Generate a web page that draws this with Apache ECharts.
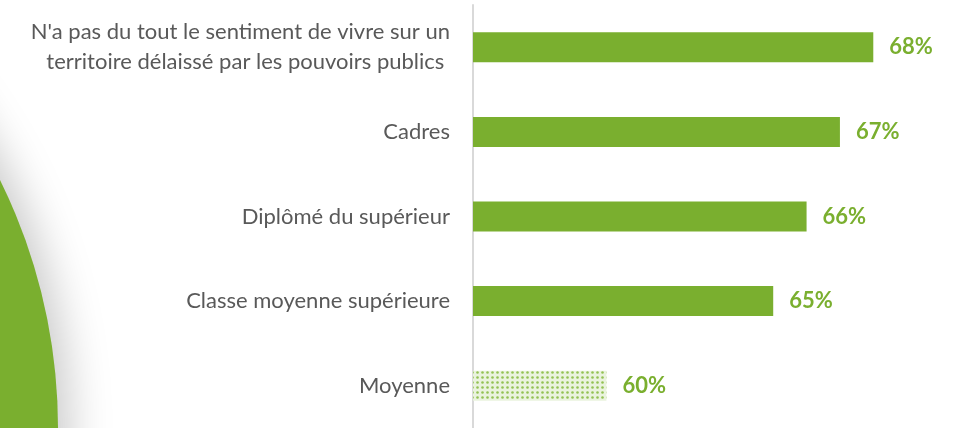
<!DOCTYPE html>
<html>
<head>
<meta charset="utf-8">
<script src="https://cdn.jsdelivr.net/npm/echarts@6/dist/echarts.min.js"></script>
<style>
  html, body { margin: 0; padding: 0; background: #fff; }
  #chart { width: 953px; height: 428px; }
</style>
</head>
<body>
<div id="chart"></div>
<script>
const categories = [
  "N'a pas du tout le sentiment de vivre sur un\nterritoire délaissé par les pouvoirs publics ",
  'Cadres',
  'Diplômé du supérieur',
  'Classe moyenne supérieure',
  'Moyenne'
]
const values = [68, 67, 66, 65, 60]
const averageIndex = 4

const green = '#7aaf2f'
const labelFont = 'Lato'

// dotted pattern for the "Moyenne" bar
function dotPattern() {
  const c = document.createElement('canvas')
  c.width = 5
  c.height = 5
  const ctx = c.getContext('2d')
  ctx.fillStyle = '#eaf3de'
  ctx.fillRect(0, 0, 5, 5)
  ctx.fillStyle = '#93c153'
  ctx.beginPath()
  ctx.arc(2.5, 2.5, 1.3, 0, Math.PI * 2)
  ctx.fill()
  return c
}

const chart = echarts.init(document.getElementById('chart'))

chart.setOption({
  animation: false,
  graphic: [
    {
      type: 'circle',
      z: -1,
      shape: { cx: -501, cy: 428, r: 559 },
      style: {
        fill: green,
        shadowBlur: 45,
        shadowColor: 'rgba(0,0,0,0.22)',
        shadowOffsetX: 10
      }
    }
  ],
  grid: { left: 473, right: 13, top: 5, height: 425 },
  xAxis: {
    type: 'value',
    min: 56,
    max: 70,
    show: false
  },
  yAxis: {
    type: 'category',
    inverse: true,
    data: categories,
    axisLine: { show: true, lineStyle: { color: '#d9d9d9', width: 2 } },
    axisTick: { show: false },
    axisLabel: {
      margin: 23,
      fontFamily: labelFont,
      fontSize: 22,
      lineHeight: 30,
      color: '#595959',
      align: 'right'
    }
  },
  series: [
    {
      type: 'bar',
      barWidth: 30,
      data: values.map((v, i) => ({
        value: v,
        itemStyle: i === averageIndex
          ? { color: { image: dotPattern(), repeat: 'repeat' } }
          : { color: green }
      })),
      label: {
        show: true,
        position: 'right',
        distance: 16,
        formatter: '{c}%',
        fontFamily: labelFont,
        fontWeight: 'bold',
        fontSize: 22,
        color: green
      }
    }
  ]
})

window.addEventListener('resize', () => chart.resize())
</script>
</body>
</html>
